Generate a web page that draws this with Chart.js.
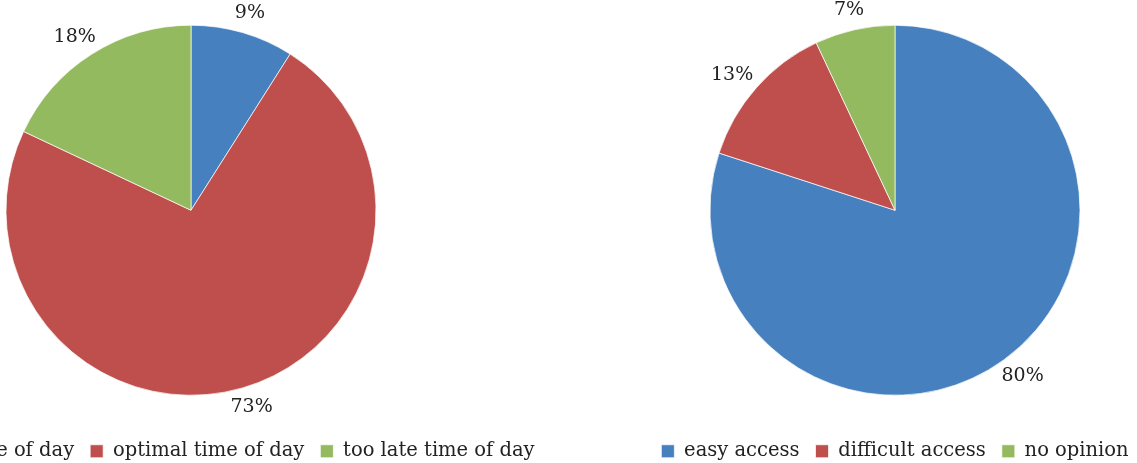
<!DOCTYPE html>
<html>
<head>
<meta charset="utf-8">
<script src="https://cdn.jsdelivr.net/npm/chart.js@4.4.0/dist/chart.umd.min.js"></script>
<style>
  html, body { margin: 0; padding: 0; background: #fff; overflow: hidden; width: 1137px; height: 463px; }
  .pie { position: absolute; top: -5px; width: 760px; height: 476px; }
  #timeBox { left: -189px; }
  #accessBox { left: 515px; }
</style>
</head>
<body>
<div class="pie" id="timeBox"><canvas id="timeChart"></canvas></div>
<div class="pie" id="accessBox"><canvas id="accessChart"></canvas></div>
<script>
var timeLabels = ["too early time of day", "optimal time of day", "too late time of day"];
var timeValues = [9, 73, 18];

var accessLabels = ["easy access", "difficult access", "no opinion"];
var accessValues = [80, 13, 7];

var sliceColors = ["#4680be", "#be4f4c", "#93ba5e"];
var textColor = "#222222";
var serif = "'DejaVu Serif', serif";

// percentage text just outside each slice, along its middle angle
var percentLabels = {
  id: 'percentLabels',
  afterDatasetsDraw: function(chart) {
    var ctx = chart.ctx;
    var meta = chart.getDatasetMeta(0);
    var values = chart.data.datasets[0].data;
    ctx.save();
    ctx.font = "19px " + serif;
    ctx.fillStyle = textColor;
    ctx.textAlign = 'center';
    ctx.textBaseline = 'middle';
    meta.data.forEach(function(arc, i) {
      var p = arc.getProps(['x', 'y', 'startAngle', 'endAngle', 'outerRadius'], true);
      var mid = (p.startAngle + p.endAngle) / 2;
      var text = values[i] + '%';
      var w = ctx.measureText(text).width;
      var r = p.outerRadius + 11;
      var x = p.x + Math.cos(mid) * (r + w / 2);
      var y = p.y + Math.sin(mid) * (r + 9);
      ctx.fillText(text, x, y);
    });
    ctx.restore();
  }
};

function makePie(id, labels, values) {
  var ctxP = document.getElementById(id).getContext('2d');
  return new Chart(ctxP, {
    type: 'pie',
    data: {
      labels: labels,
      datasets: [{
        data: values,
        backgroundColor: sliceColors,
        borderColor: 'rgba(255,255,255,0.7)',
        borderWidth: 1,
        radius: 185
      }]
    },
    options: {
      responsive: true,
      maintainAspectRatio: false,
      animation: false,
      layout: { padding: 0 },
      plugins: {
        tooltip: { enabled: false },
        legend: {
          position: 'bottom',
          labels: {
            boxWidth: 13,
            boxHeight: 13,
            padding: 16,
            color: textColor,
            font: { family: serif, size: 19.5 }
          }
        }
      }
    },
    plugins: [percentLabels]
  });
}

makePie("timeChart", timeLabels, timeValues);
makePie("accessChart", accessLabels, accessValues);
</script>
</body>
</html>
